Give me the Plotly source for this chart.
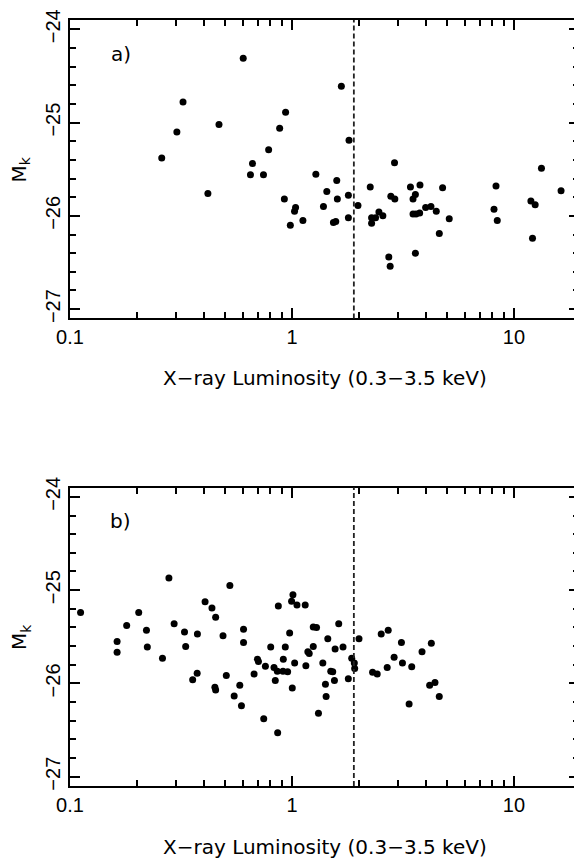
import plotly.graph_objects as go

# ---- data (panel a) ----
lx_a = [0.603, 0.323, 0.303, 0.469, 0.259, 0.418, 0.936, 0.880, 0.785, 0.664,
        0.650, 0.744, 1.281, 1.435, 1.386, 0.924, 1.038, 1.027, 0.983, 1.120,
        1.669, 1.807, 2.897, 1.591, 1.601, 1.795, 1.983, 1.537, 1.575, 1.795,
        2.252, 2.284, 2.380, 2.284, 2.464, 2.567, 2.788, 2.906, 2.730, 2.769,
        3.417, 3.773, 3.597, 3.510, 3.510, 3.620, 3.760, 4.000, 4.227, 4.467,
        4.770, 4.610, 3.597, 5.110, 8.300, 8.130, 8.410, 11.92, 12.46, 12.12,
        13.30, 16.30]
mk_a = [-24.31, -24.78, -25.10, -25.02, -25.38, -25.76, -24.89, -25.06, -25.29, -25.44,
        -25.56, -25.56, -25.555, -25.74, -25.90, -25.82, -25.91, -25.95, -26.10, -26.05,
        -24.61, -25.19, -25.43, -25.62, -25.82, -25.78, -25.89, -26.07, -26.06, -26.02,
        -25.69, -26.02, -26.02, -26.08, -25.96, -26.00, -25.79, -25.82, -26.44, -26.54,
        -25.69, -25.67, -25.77, -25.82, -25.98, -25.98, -25.97, -25.91, -25.90, -25.95,
        -25.70, -26.19, -26.40, -26.03, -25.68, -25.93, -26.05, -25.84, -25.88, -26.24,
        -25.49, -25.73]

# ---- data (panel b) ----
lx_b = [0.1116, 0.163, 0.163, 0.180, 0.204, 0.221, 0.223, 0.261, 0.279, 0.2945,
        0.328, 0.332, 0.375, 0.374, 0.357, 0.406, 0.436, 0.453, 0.4495, 0.453,
        0.489, 0.506, 0.525, 0.549, 0.582, 0.592, 0.605, 0.605, 0.675, 0.699,
        0.706, 0.746, 0.759, 0.802, 0.830, 0.841, 0.859, 0.868, 0.862, 0.914,
        0.911, 0.956, 0.933, 0.976, 1.010, 0.996, 1.053, 1.028, 1.003, 1.147,
        1.155, 1.179, 1.196, 1.247, 1.290, 1.247, 1.316, 1.377, 1.415, 1.425,
        1.450, 1.495, 1.526, 1.624, 1.564, 1.698, 1.553, 1.794, 1.858, 1.909,
        1.916, 2.004, 2.307, 2.421, 2.523, 2.713, 2.685, 2.885, 3.112, 3.145,
        3.463, 3.370, 3.853, 4.244, 4.171, 4.407, 4.608]
mk_b = [-25.24, -25.55, -25.665, -25.38, -25.24, -25.43, -25.61, -25.73, -24.87, -25.36,
        -25.45, -25.605, -25.47, -25.89, -25.96, -25.125, -25.19, -25.29, -26.04, -26.07,
        -25.49, -25.915, -24.95, -26.135, -26.02, -26.24, -25.42, -25.56, -25.90, -25.74,
        -25.765, -26.38, -25.815, -25.61, -25.83, -25.97, -25.87, -25.17, -26.53, -25.74,
        -25.87, -25.875, -25.61, -25.46, -25.05, -25.12, -25.16, -25.78, -26.05, -25.16,
        -25.81, -25.66, -25.68, -25.395, -25.40, -25.605, -26.32, -25.78, -26.01, -26.14,
        -25.52, -25.87, -25.875, -25.36, -25.63, -25.61, -25.97, -25.95, -25.73, -25.78,
        -25.84, -25.52, -25.88, -25.90, -25.47, -25.43, -25.83, -25.72, -25.56, -25.78,
        -25.82, -26.22, -25.66, -25.57, -26.02, -25.99, -26.14]

cut_lx = 1.9
x_ticks = [0.1, 1, 10]
x_ticktext = ["0.1", "1", "10"]
y_ticks = [-27, -26, -25, -24]
panel_labels = ["a)", "b)"]
x_title = "X\u2212ray Luminosity (0.3\u22123.5 keV)"
y_title = "M<sub>k</sub>"

fig = go.Figure()
marker = dict(color="black", size=7, line=dict(width=0))
fig.add_trace(go.Scatter(x=lx_a, y=mk_a, mode="markers", marker=marker,
                         xaxis="x", yaxis="y", showlegend=False))
fig.add_trace(go.Scatter(x=lx_b, y=mk_b, mode="markers", marker=marker,
                         xaxis="x2", yaxis="y2", showlegend=False))

minor_x = [k * 10 ** e for e in (-1, 0, 1) for k in range(2, 10)]
minor_y = [round(-27.2 + 0.2 * i, 2) for i in range(18)]

tickfont = dict(family="Liberation Sans, Arial, sans-serif", size=20, color="black")
xax = dict(type="log", range=[-1, 1.293], tickmode="array", tickvals=x_ticks,
           ticktext=x_ticktext, ticks="inside", ticklen=10, tickwidth=1.5,
           tickcolor="black", showline=True, linecolor="black", linewidth=2,
           mirror="ticks", showgrid=False, zeroline=False, tickfont=tickfont,
           minor=dict(ticks="inside", ticklen=6, tickwidth=1.5, tickcolor="black",
                      tickvals=minor_x, showgrid=False))
yax = dict(range=[-27.1, -23.9], tickmode="array", tickvals=y_ticks,
           ticktext=["\u221227", "\u221226", "\u221225", "\u221224"],
           ticks="inside", ticklen=10, tickwidth=1.5, tickcolor="black",
           showline=True, linecolor="black", linewidth=2, mirror="ticks",
           showgrid=False, zeroline=False, tickangle=-90,
           tickfont=dict(family="Liberation Sans, Arial, sans-serif", size=20, color="black"),
           minor=dict(ticks="inside", ticklen=6, tickwidth=1.5, tickcolor="black",
                      tickvals=minor_y, showgrid=False))

# the page body adds an 8px offset; figure is sized/margined to compensate
fig.update_layout(
    width=574, height=853,
    margin=dict(l=62, r=1, t=8, b=75),
    paper_bgcolor="white", plot_bgcolor="white",
    xaxis=dict(xax, anchor="y", domain=[0, 1]),
    yaxis=dict(yax, anchor="x", domain=[0.6104, 1]),
    xaxis2=dict(xax, anchor="y2", domain=[0, 1]),
    yaxis2=dict(yax, anchor="x2", domain=[0, 0.3896]),
    shapes=[
        dict(type="line", xref="x", yref="y domain", x0=cut_lx, x1=cut_lx, y0=0, y1=1,
             line=dict(color="#222", width=1.8, dash="5px,3px")),
        dict(type="line", xref="x2", yref="y2 domain", x0=cut_lx, x1=cut_lx, y0=0, y1=1,
             line=dict(color="#222", width=1.8, dash="5px,3px")),
    ],
)

font_txt = dict(family="DejaVu Sans, sans-serif", size=20, color="black")
ann = []
ann.append(dict(text=panel_labels[0], xref="paper", yref="paper", x=(121 - 70) / 511,
                y=(786 - 50) / 770, showarrow=False, font=font_txt,
                xanchor="center", yanchor="middle"))
ann.append(dict(text=panel_labels[1], xref="paper", yref="paper", x=(121 - 70) / 511,
                y=(786 - 520) / 770, showarrow=False, font=font_txt,
                xanchor="center", yanchor="middle"))
for yp in (376, 847):
    ann.append(dict(text=x_title, xref="paper", yref="paper", x=0.5,
                    y=(786 - yp) / 770, showarrow=False, font=font_txt,
                    xanchor="center", yanchor="middle"))
for yp in (166, 636):
    ann.append(dict(text=y_title, xref="paper", yref="paper", x=(20 - 70) / 511,
                    y=(786 - yp) / 770, showarrow=False, font=font_txt,
                    textangle=-90, xanchor="center", yanchor="middle"))
fig.update_layout(annotations=ann)

fig.write_html("out.html")
